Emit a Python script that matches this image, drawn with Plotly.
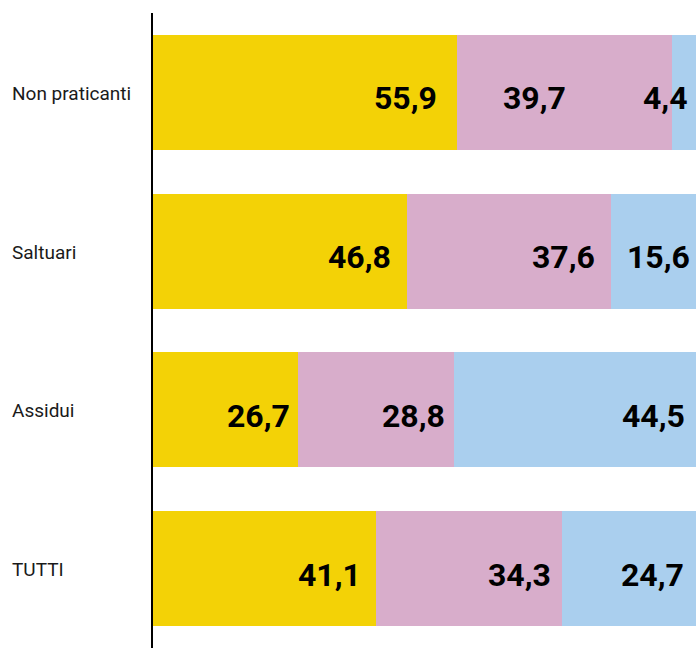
import plotly.graph_objects as go

categories = ["Non praticanti", "Saltuari", "Assidui", "TUTTI"]
series_names = ["Serie 1", "Serie 2", "Serie 3"]
values_1 = [55.9, 46.8, 26.7, 41.1]
values_2 = [39.7, 37.6, 28.8, 34.3]
values_3 = [4.4, 15.6, 44.5, 24.7]
colors = ["#F3D206", "#D8ADCB", "#AACFEE"]

# horizontal offsets (px) of each value label from the end of its segment
label_shift = [
    [-18, -104, -6],
    [-14, -14, -4],
    [-6, -7, -9],
    [-13, -9, -10],
]

NUM_FONT = "Roboto, sans-serif"
CAT_FONT = "Roboto, sans-serif"

def fmt(v):
    return f"{v:.1f}".replace(".", ",")

fig = go.Figure()
all_series = [values_1, values_2, values_3]
for name, vals, col in zip(series_names, all_series, colors):
    fig.add_trace(go.Bar(
        y=categories, x=vals, name=name, orientation="h",
        marker=dict(color=col, line=dict(width=0)),
        hoverinfo="x+y",
    ))

for i, c in enumerate(categories):
    cum = 0.0
    for j, vals in enumerate(all_series):
        cum += vals[i]
        fig.add_annotation(
            x=min(cum, 100), xref="x", y=c, yref="y",
            xanchor="right", yanchor="middle", xshift=label_shift[i][j], yshift=-6,
            text=fmt(vals[i]), showarrow=False,
            font=dict(family=NUM_FONT, size=32, color="black", weight="bold"),
        )

for c in categories:
    fig.add_annotation(
        x=0, xref="paper", y=c, yref="y", xanchor="left", xshift=-143, yshift=-1,
        text=c, showarrow=False,
        font=dict(family=CAT_FONT, size=19, color="#1a1a1a"),
    )

fig.update_layout(
    barmode="stack", bargap=0.276,
    width=696, height=648,
    margin=dict(l=153, r=0, t=13, b=0),
    paper_bgcolor="white", plot_bgcolor="white",
    showlegend=False,
    xaxis=dict(range=[0, 100], visible=False, fixedrange=True),
    yaxis=dict(categoryorder="array", categoryarray=categories, autorange="reversed",
               showticklabels=False, showline=True, linecolor="black", linewidth=2,
               showgrid=False, zeroline=False, ticks=""),
)

fig.write_html("out.html", config={"displayModeBar": False},
               post_script="document.body.style.margin='0';document.body.style.overflow='hidden';")
